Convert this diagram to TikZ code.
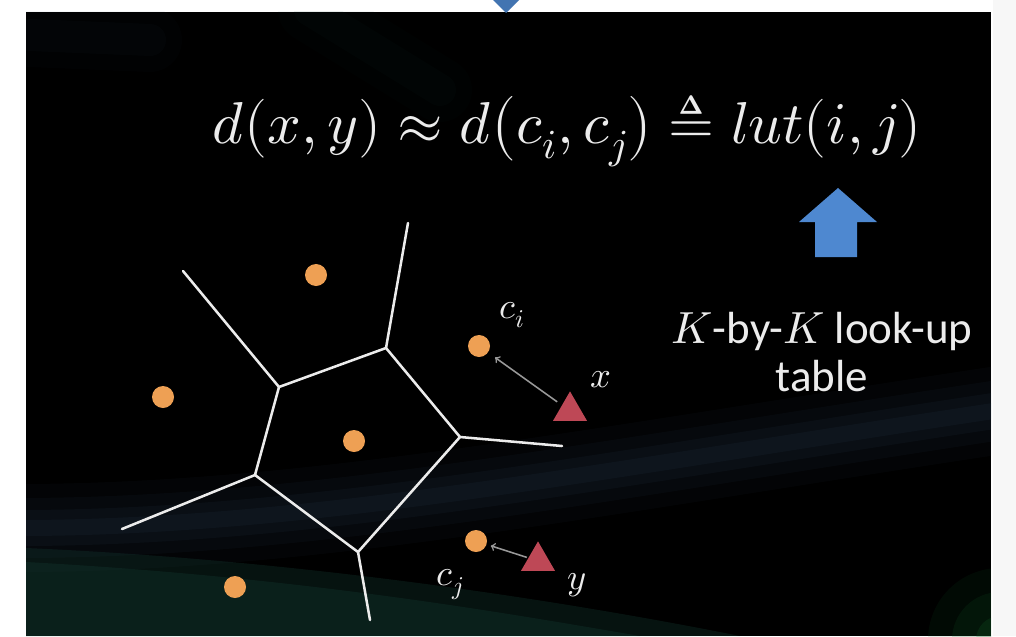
\documentclass[tikz,border=0pt]{standalone}
\usepackage{fontspec}
\usepackage{unicode-math}
\setmathfont{Latin Modern Math}
\newfontfamily\slidefont{Carlito}
\usetikzlibrary{shapes.geometric}
\definecolor{slideink}{RGB}{236,236,236}
\definecolor{dotorange}{RGB}{238,160,84}
\definecolor{qred}{RGB}{190,72,86}
\definecolor{lutblue}{RGB}{78,136,208}
\definecolor{glowblue}{RGB}{40,62,84}
\definecolor{glowgreen}{RGB}{22,64,54}
\begin{document}
\begin{tikzpicture}[x=0.025cm,y=-0.025cm,
  centroid/.style={circle,fill=dotorange,inner sep=0pt,minimum size=0.55cm},
  query/.style={regular polygon,regular polygon sides=3,fill=qred,inner sep=0pt,minimum size=0.98cm},
  cell/.style={slideink,line width=1.8pt,line cap=round},
  ptr/.style={->,black!40,line width=1.1pt},
  lbl/.style={text=slideink,font=\fontsize{26}{28}\selectfont}]
  \useasboundingbox (0,0) rectangle (1016,636);
  \fill[white] (0,0) rectangle (1016,636);
  \fill[black!3] (993,0) rectangle (1016,636);
  \fill[black] (26,12) rectangle (991,636);
  % soft glows on the slide background
  \begin{scope}
    \clip (26,12) rectangle (991,636);
    \foreach \w/\o in {2.2/.08,1.5/.1,.9/.12,.4/.14} {
      \draw[glowblue,line width=\w cm,opacity=\o,line cap=round] (0,528) .. controls (300,530) and (600,470) .. (1000,410);
    }
    \fill[glowgreen,opacity=.3] (26,548) .. controls (300,560) and (560,600) .. (740,636) -- (26,636) -- cycle;
    \fill[glowgreen,opacity=.3] (26,562) .. controls (300,577) and (500,612) .. (640,636) -- (26,636) -- cycle;
    \foreach \r/\o in {1.8/.1,1.2/.14,.6/.2} {
      \fill[glowgreen!80!green,opacity=\o] (1000,640) circle (\r cm);
    }
    \foreach \w/\o in {1.6/.04,.8/.06} {
      \draw[glowblue,line width=\w cm,opacity=\o,line cap=round] (30,35) -- (150,40);
      \draw[glowgreen,line width=\w cm,opacity=\o,line cap=round] (310,10) -- (440,90);
    }
  \end{scope}
  \fill[lutblue!85!black] (493,0) -- (519,0) -- (506,13) -- cycle;

  \node[text=slideink,font=\fontsize{42}{48}\selectfont] (dist) at (567,130)
    {$d(x,y)\approx d\bigl(c_i,c_j\bigr)\triangleq lut(i,j)$};

  % voronoi cell
  \coordinate (va) at (386,348);
  \coordinate (vb) at (279,387);
  \coordinate (vc) at (460,437);
  \coordinate (vd) at (255,475);
  \coordinate (ve) at (358,552);
  \coordinate (ra) at (408,223);
  \coordinate (rb) at (183,271);
  \coordinate (rc) at (562,446);
  \coordinate (rd) at (122,529);
  \coordinate (re) at (370,620);
  \draw[cell,line join=round] (va) -- (vb) -- (vd) -- (ve) -- (vc) -- cycle;
  \foreach \v in {a,b,c,d,e} {
    \draw[cell] (v\v) -- (r\v);
  }

  \node[centroid] (top) at (316,275) {};
  \node[centroid] (left) at (163,397) {};
  \node[centroid] (mid) at (354,441) {};
  \node[centroid] (low) at (235,587) {};
  \node[centroid] (ci) at (479,346) {};
  \node[centroid] (cj) at (476,541) {};
  \node[query] (qx) at (570,411) {};
  \node[query] (qy) at (538,561) {};

  \draw[ptr,shorten <=4pt,shorten >=6pt] (qx) -- (ci);
  \draw[ptr,shorten <=1pt,shorten >=3pt] (qy) -- (cj);

  \node[lbl] (lci) at (512,315) {$c_i$};
  \node[lbl] (lx) at (601,380) {$x$};
  \node[lbl] (lcj) at (450,585) {$c_j$};
  \node[lbl] (ly) at (577,585) {$y$};

  \fill[lutblue] (838,188) -- (877,222) -- (857,222) -- (857,257)
    -- (815,257) -- (815,222) -- (799,222) -- cycle;
  \node[text=slideink,font=\slidefont\fontsize{32}{34}\selectfont,align=center] (lutcap)
    at (822,352) {$K$-by-$K$ look-up\\table};
\end{tikzpicture}
\end{document}
